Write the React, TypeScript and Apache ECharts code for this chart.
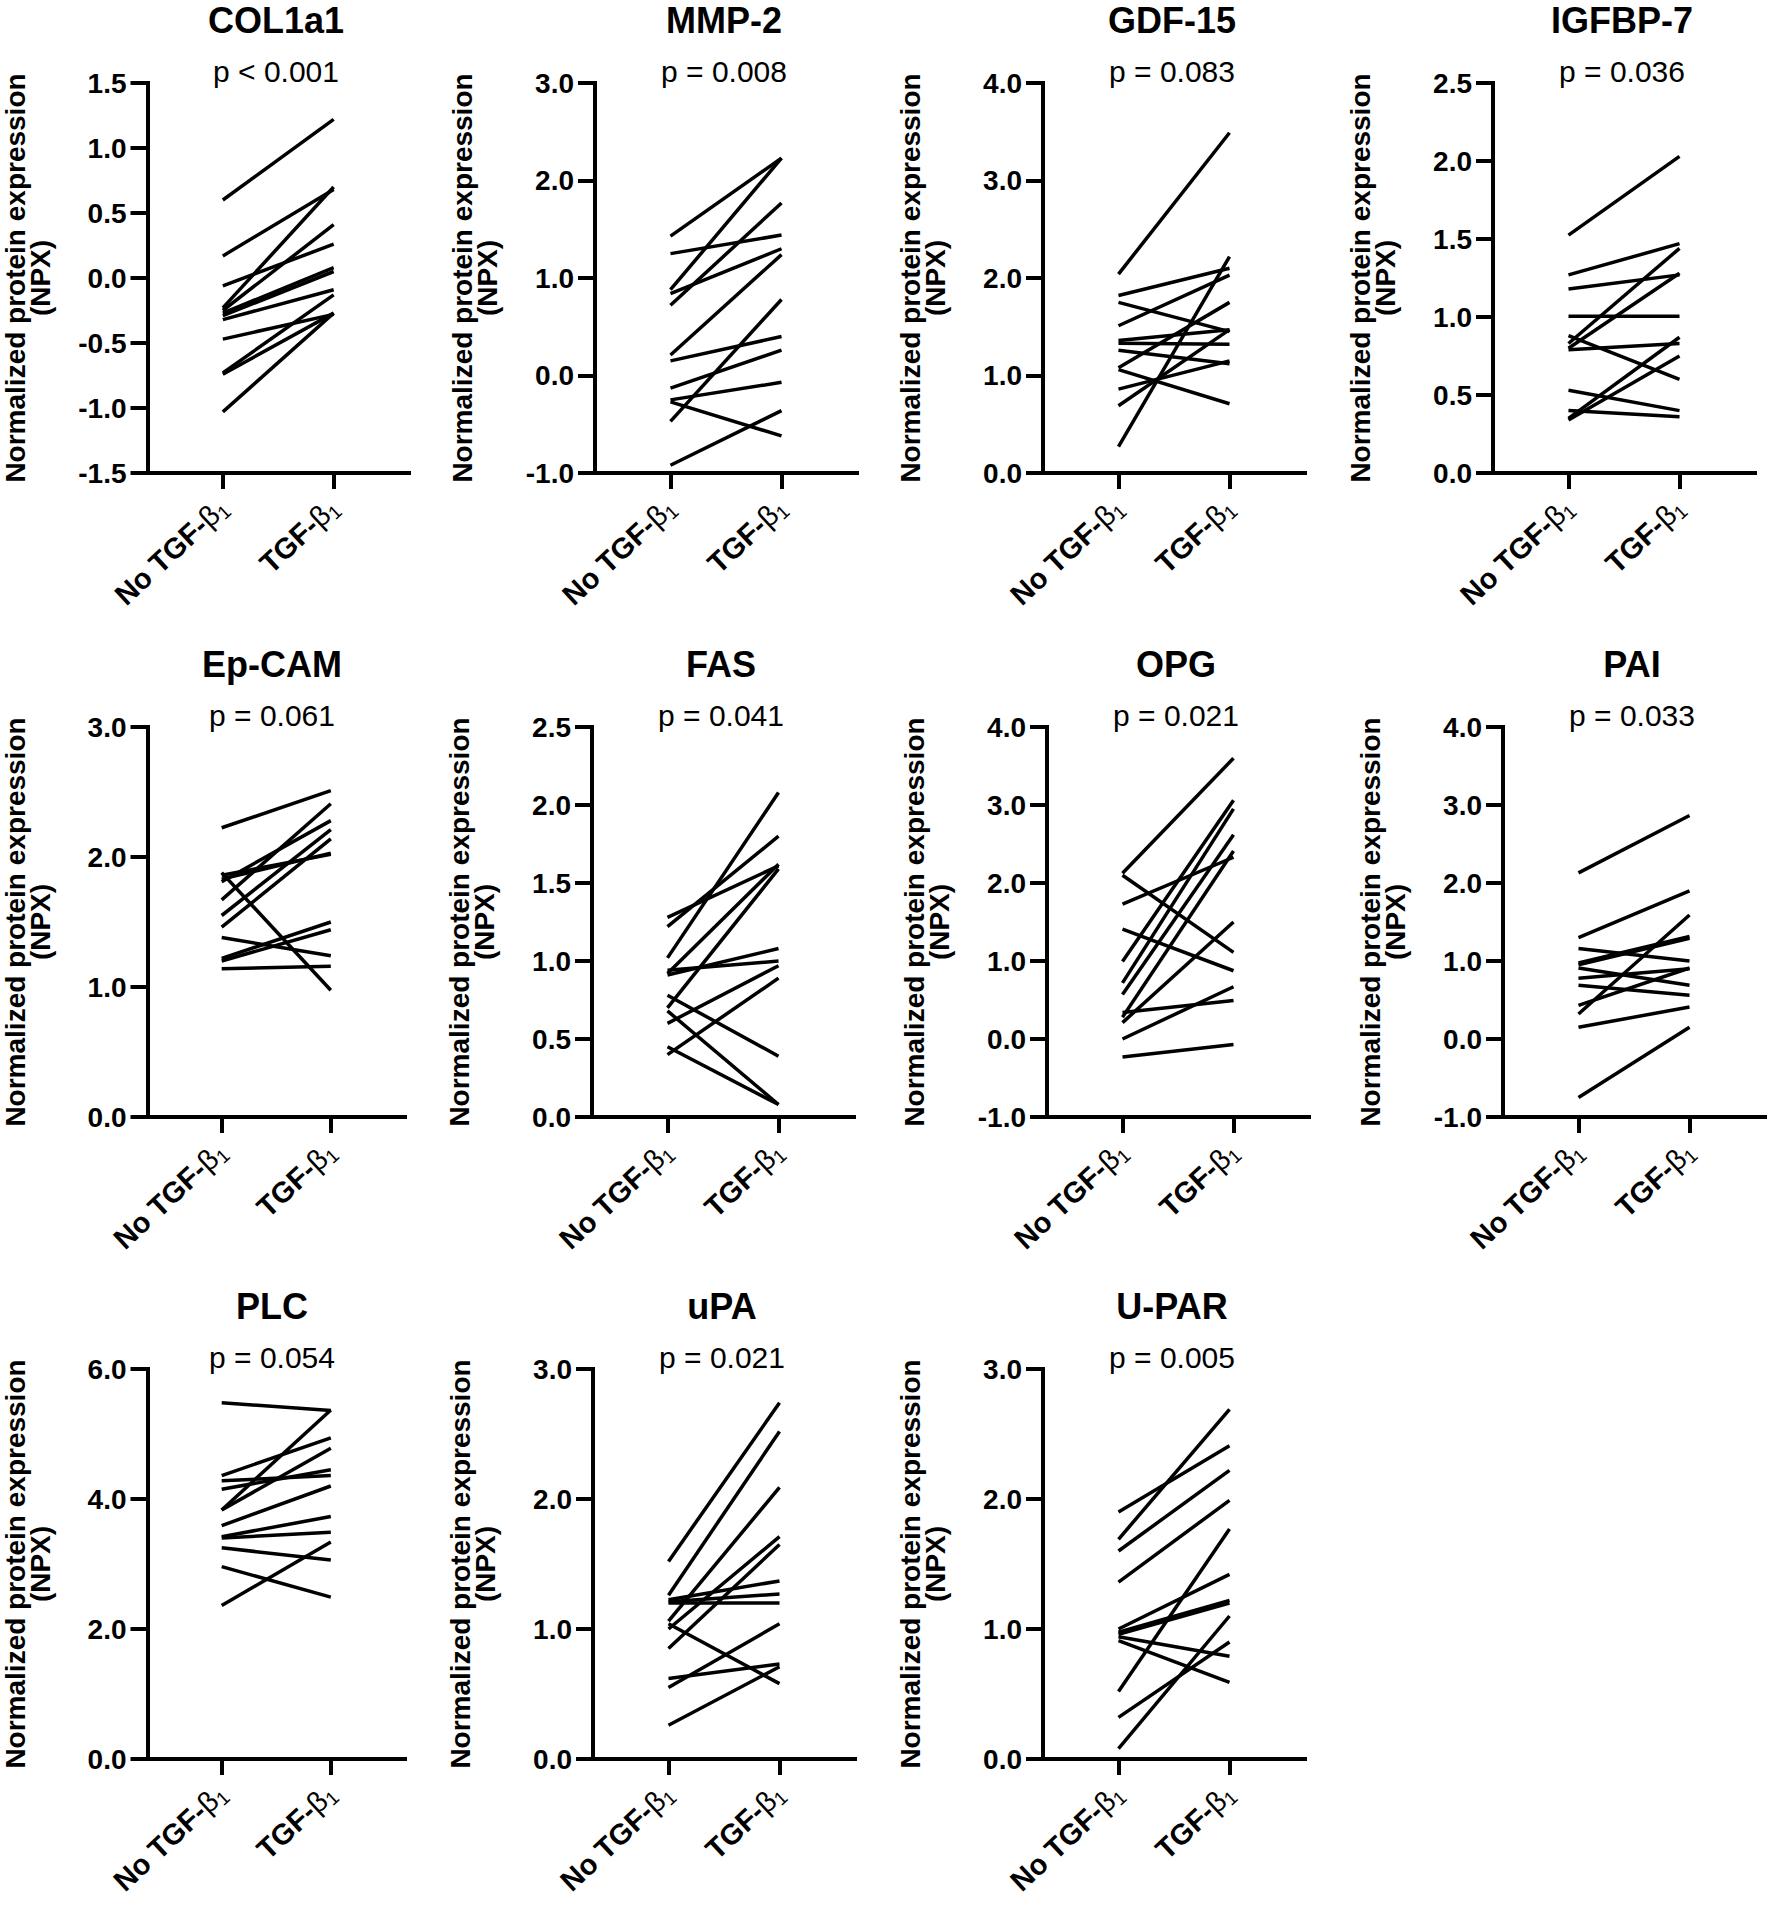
import { useEffect, useRef } from 'react';
import * as echarts from 'echarts';

// panel titles, p values and y-axis scales
const PANEL_NAMES = ['COL1a1', 'MMP-2', 'GDF-15', 'IGFBP-7', 'Ep-CAM', 'FAS', 'OPG', 'PAI', 'PLC', 'uPA', 'U-PAR'];
const P_VALUES = ['p < 0.001', 'p = 0.008', 'p = 0.083', 'p = 0.036', 'p = 0.061', 'p = 0.041', 'p = 0.021', 'p = 0.033', 'p = 0.054', 'p = 0.021', 'p = 0.005'];
const Y_MIN = [-1.5, -1, 0, 0, 0, 0, -1, -1, 0, 0, 0];
const Y_MAX = [1.5, 3, 4, 2.5, 3, 2.5, 4, 4, 6, 3, 3];
const Y_STEP = [0.5, 1, 1, 0.5, 1, 0.5, 1, 1, 2, 1, 1];

// x tick labels: prefix + β1
const GROUP_PREFIX = ['No TGF-', 'TGF-'];
const Y_NAME = 'Normalized protein expression\n(NPX)';

// paired values per subject: before (No TGF-β1) and after (TGF-β1)
const COL1A1_NO = [0.6, 0.17, -0.06, -0.23, -0.25, -0.27, -0.29, -0.32, -0.47, -0.73, -0.74, -1.03];
const COL1A1_TGF = [1.22, 0.68, 0.26, 0.7, 0.41, 0.08, 0.05, -0.09, -0.28, -0.13, -0.27, -0.27];

const MMP2_NO = [1.43, 1.25, 0.88, 0.84, 0.72, 0.21, 0.15, -0.13, -0.25, -0.27, -0.47, -0.92];
const MMP2_TGF = [2.23, 1.44, 2.23, 1.3, 1.77, 1.24, 0.4, 0.26, -0.07, -0.62, 0.78, -0.36];

const GDF15_NO = [2.04, 1.82, 1.75, 1.51, 1.36, 1.33, 1.26, 1.08, 1.06, 0.86, 0.69, 0.27];
const GDF15_TGF = [3.49, 2.1, 1.45, 2.03, 1.47, 1.32, 1.12, 1.75, 0.71, 1.15, 1.47, 2.22];

const IGFBP7_NO = [1.525, 1.27, 1.18, 1.005, 0.88, 0.83, 0.8, 0.79, 0.53, 0.4, 0.35, 0.34];
const IGFBP7_TGF = [2.03, 1.47, 1.27, 1.005, 0.6, 1.44, 1.28, 0.83, 0.4, 0.36, 0.87, 0.75];

const EPCAM_NO = [2.225, 1.88, 1.86, 1.83, 1.81, 1.67, 1.55, 1.46, 1.38, 1.22, 1.2, 1.14];
const EPCAM_TGF = [2.51, 0.975, 2.02, 2.03, 2.28, 2.41, 2.21, 2.14, 1.24, 1.5, 1.44, 1.16];

const FAS_NO = [1.28, 1.22, 1.02, 0.94, 0.92, 0.91, 0.78, 0.7, 0.68, 0.6, 0.45, 0.4];
const FAS_TGF = [1.61, 1.8, 2.08, 1.0, 1.62, 1.08, 0.39, 1.59, 0.08, 0.97, 0.08, 0.89];

const OPG_NO = [2.125, 2.1, 1.73, 1.41, 0.995, 0.72, 0.57, 0.34, 0.28, 0.21, 0.0, -0.23];
const OPG_TGF = [3.6, 1.11, 2.33, 0.875, 3.06, 2.95, 2.62, 0.495, 2.41, 1.5, 0.67, -0.07];

const PAI_NO = [2.13, 1.3, 1.16, 0.975, 0.95, 0.91, 0.78, 0.69, 0.43, 0.32, 0.15, -0.75];
const PAI_TGF = [2.865, 1.9, 1.0, 1.315, 1.29, 0.69, 0.9, 0.56, 0.91, 1.59, 0.41, 0.15];

const PLC_NO = [5.48, 4.36, 4.28, 4.15, 3.83, 3.83, 3.59, 3.42, 3.4, 3.25, 2.96, 2.36];
const PLC_TGF = [5.36, 4.94, 4.36, 4.45, 5.37, 4.78, 4.2, 3.73, 3.49, 3.06, 2.49, 3.34];

const UPA_NO = [1.52, 1.26, 1.225, 1.21, 1.2, 1.06, 1.04, 1.0, 0.85, 0.62, 0.55, 0.26];
const UPA_TGF = [2.74, 2.52, 1.37, 1.27, 1.2, 2.09, 0.58, 1.71, 1.65, 0.73, 1.04, 0.71];

const UPAR_NO = [1.9, 1.69, 1.6, 1.36, 1.0, 0.975, 0.96, 0.94, 0.91, 0.52, 0.32, 0.08];
const UPAR_TGF = [2.41, 2.69, 2.22, 1.99, 1.42, 1.22, 1.2, 0.79, 0.59, 1.77, 0.9, 1.1];

const BEFORE = [COL1A1_NO, MMP2_NO, GDF15_NO, IGFBP7_NO, EPCAM_NO, FAS_NO, OPG_NO, PAI_NO, PLC_NO, UPA_NO, UPAR_NO];
const AFTER = [COL1A1_TGF, MMP2_TGF, GDF15_TGF, IGFBP7_TGF, EPCAM_TGF, FAS_TGF, OPG_TGF, PAI_TGF, PLC_TGF, UPA_TGF, UPAR_TGF];

// layout (pixels)
const PANEL_LEFT = [147, 595, 1043, 1493, 143, 592, 1047, 1503, 143, 593, 1043];
const ROW_TOP = [83, 727, 1369];
const ROW_HEIGHT = [390, 390, 390];
const PLOT_WIDTH = 262;
const X_MIN = -0.68;
const X_MAX = 1.68;
const FONT = '"Liberation Sans", Arial, sans-serif';

const axisStroke = { color: '#000', width: 4, cap: 'square' as const };

function buildOption(): echarts.EChartsOption {
  const grid: any[] = [];
  const xAxis: any[] = [];
  const yAxis: any[] = [];
  const series: any[] = [];
  const graphic: any[] = [];

  PANEL_NAMES.forEach((name, i) => {
    const row = Math.floor(i / 4);
    const left = PANEL_LEFT[i];
    const top = ROW_TOP[row];
    const cx = left + 129;

    grid.push({ left, top, width: PLOT_WIDTH, height: ROW_HEIGHT[row] });

    xAxis.push({
      type: 'value',
      gridIndex: i,
      min: X_MIN,
      max: X_MAX,
      splitLine: { show: false },
      axisLine: { show: true, onZero: false, lineStyle: axisStroke },
      axisTick: { show: true, customValues: [0, 1], length: 14, lineStyle: axisStroke },
      axisLabel: {
        customValues: [0, 1],
        rotate: 43,
        margin: 30,
        color: '#000',
        formatter: (v: number) => `{b|${GROUP_PREFIX[Math.round(v)]}}{g|β}{s|1}`,
        rich: {
          b: { fontFamily: FONT, fontWeight: 'bold', fontSize: 29, color: '#000', lineHeight: 34 },
          g: { fontFamily: FONT, fontWeight: 'normal', fontSize: 29, color: '#000', lineHeight: 34 },
          s: { fontFamily: FONT, fontWeight: 'normal', fontSize: 19, color: '#000', lineHeight: 19, verticalAlign: 'bottom' },
        },
      },
    });

    yAxis.push({
      type: 'value',
      gridIndex: i,
      min: Y_MIN[i],
      max: Y_MAX[i],
      interval: Y_STEP[i],
      splitLine: { show: false },
      axisLine: { show: true, onZero: false, lineStyle: axisStroke },
      axisTick: { show: true, length: 15, lineStyle: axisStroke },
      axisLabel: {
        margin: 21,
        color: '#000',
        fontFamily: FONT,
        fontWeight: 'bold',
        fontSize: 28,
        formatter: (v: number) => v.toFixed(1),
      },
      name: Y_NAME,
      nameLocation: 'middle',
      nameRotate: 90,
      nameGap: 95,
      nameTextStyle: { fontFamily: FONT, fontWeight: 'bold', fontSize: 28, lineHeight: 25, color: '#000' },
    });

    BEFORE[i].forEach((b, k) => {
      series.push({
        type: 'line',
        xAxisIndex: i,
        yAxisIndex: i,
        data: [[0, b], [1, AFTER[i][k]]],
        symbol: 'none',
        silent: true,
        lineStyle: { color: '#000', width: 3.5 },
      });
    });

    graphic.push({
      type: 'text',
      x: cx,
      y: top - 63,
      style: { text: name, fontFamily: FONT, fontWeight: 'bold', fontSize: 36, fill: '#000', textAlign: 'center', textVerticalAlign: 'middle' },
    });
    graphic.push({
      type: 'text',
      x: cx,
      y: top - 12,
      style: { text: P_VALUES[i], fontFamily: FONT, fontWeight: 'normal', fontSize: 30, fill: '#000', textAlign: 'center', textVerticalAlign: 'middle' },
    });
  });

  return {
    animation: false,
    backgroundColor: '#fff',
    grid,
    xAxis,
    yAxis,
    series,
    graphic,
  };
}

export default function App() {
  const chartRef = useRef<HTMLDivElement>(null);

  useEffect(() => {
    if (!chartRef.current) return;
    document.body.style.margin = '0';
    const chart = echarts.init(chartRef.current, undefined, { renderer: 'svg' });
    chart.setOption(buildOption());
    return () => {
      chart.dispose();
    };
  }, []);

  return <div ref={chartRef} style={{ width: '1772px', height: '1919px', background: '#fff' }} />;
}
